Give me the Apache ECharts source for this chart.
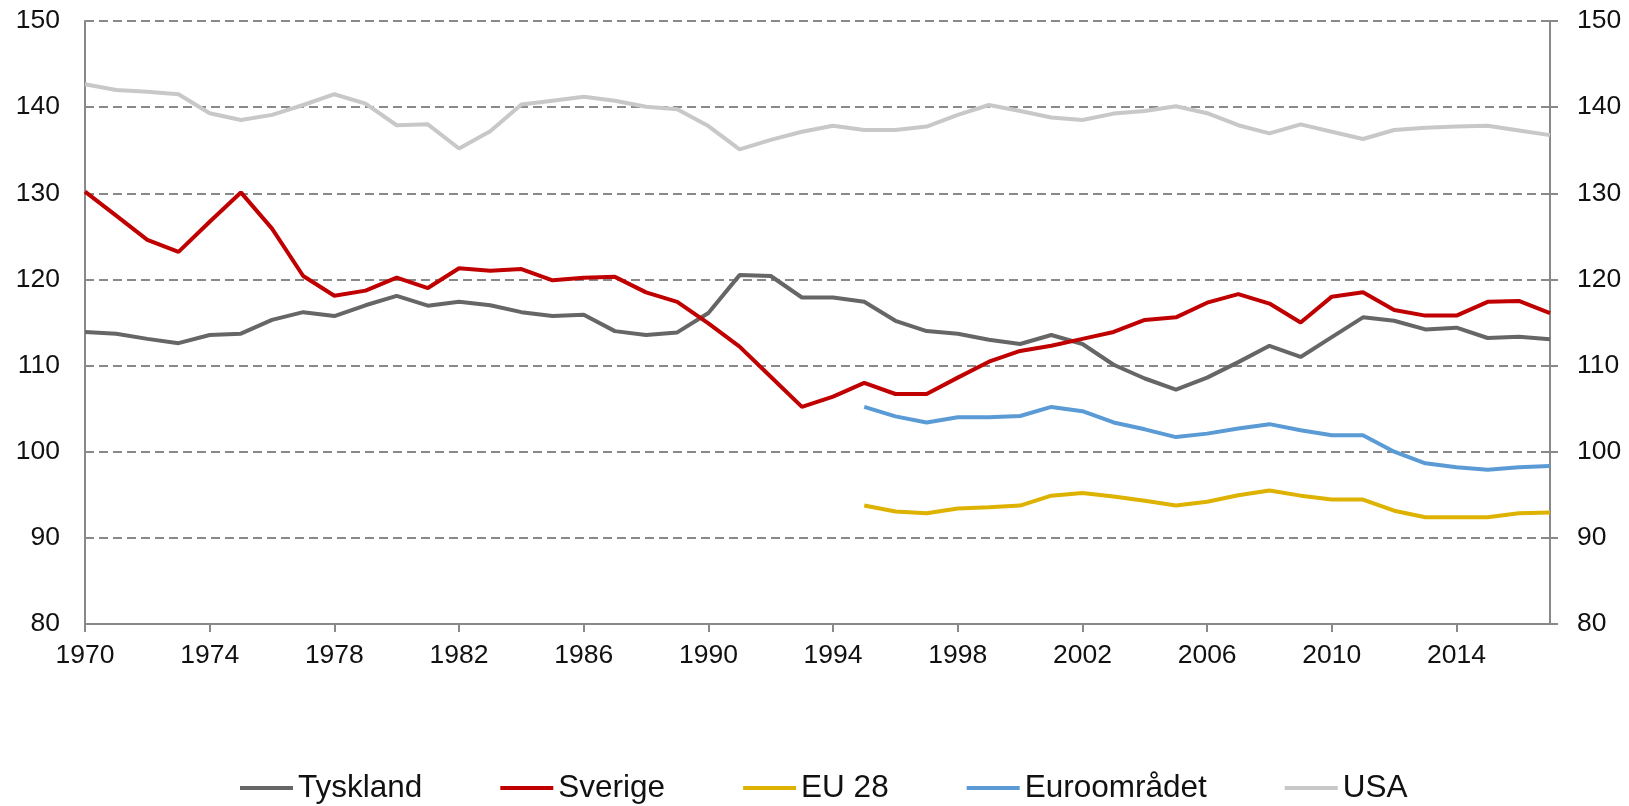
<!DOCTYPE html>
<html>
<head>
<meta charset="utf-8">
<script src="https://cdn.jsdelivr.net/npm/echarts@6/dist/echarts.min.js"></script>
<style>
  html, body { margin: 0; padding: 0; background: #fff; }
  #chart { width: 1629px; height: 806px; }
</style>
</head>
<body>
<div id="chart"></div>
<script>
// år 1970-2017
var years = [];
for (var y = 1970; y <= 2017; y++) years.push(String(y));

var tyskland = [113.9, 113.7, 113.1, 112.6, 113.55, 113.7, 115.3, 116.2, 115.75, 117.0,
  118.1, 116.95, 117.4, 117.0, 116.2, 115.75, 115.9, 114.0, 113.55, 113.85,
  116.1, 120.5, 120.4, 117.9, 117.9, 117.4, 115.2, 114.0, 113.7, 113.0,
  112.5, 113.55, 112.5, 110.1, 108.5, 107.2, 108.6, 110.4, 112.3, 111.0,
  113.3, 115.6, 115.2, 114.2, 114.4, 113.2, 113.35, 113.05];

var sverige = [130.2, 127.4, 124.6, 123.2, 126.7, 130.1, 125.9, 120.4, 118.1, 118.7,
  120.2, 119.0, 121.3, 121.0, 121.2, 119.9, 120.2, 120.3, 118.5, 117.4,
  114.9, 112.2, 108.7, 105.2, 106.4, 108.0, 106.7, 106.7, 108.6, 110.45,
  111.7, 112.3, 113.1, 113.9, 115.3, 115.6, 117.3, 118.3, 117.2, 115.0,
  118.0, 118.5, 116.45, 115.8, 115.8, 117.4, 117.5, 116.1];

// EU 28 och euroområdet finns från 1995
var eu28 = [null, null, null, null, null, null, null, null, null, null,
  null, null, null, null, null, null, null, null, null, null,
  null, null, null, null, null, 93.75, 93.05, 92.85, 93.4, 93.55,
  93.75, 94.9, 95.2, 94.8, 94.3, 93.75, 94.2, 94.95, 95.5, 94.9,
  94.45, 94.45, 93.15, 92.4, 92.4, 92.4, 92.85, 92.95];

var euroomradet = [null, null, null, null, null, null, null, null, null, null,
  null, null, null, null, null, null, null, null, null, null,
  null, null, null, null, null, 105.2, 104.1, 103.4, 104.0, 104.0,
  104.15, 105.2, 104.7, 103.4, 102.6, 101.7, 102.1, 102.7, 103.2, 102.5,
  101.9, 101.9, 100.0, 98.65, 98.2, 97.9, 98.2, 98.35];

var usa = [142.65, 142.0, 141.8, 141.5, 139.3, 138.5, 139.1, 140.25, 141.5, 140.4,
  137.9, 138.0, 135.2, 137.2, 140.3, 140.75, 141.2, 140.75, 140.05, 139.75,
  137.8, 135.1, 136.2, 137.15, 137.85, 137.35, 137.35, 137.75, 139.1, 140.25,
  139.55, 138.8, 138.5, 139.25, 139.55, 140.1, 139.3, 137.9, 136.95, 138.0,
  137.15, 136.3, 137.35, 137.6, 137.75, 137.85, 137.3, 136.75];

var seriesNames = ['Tyskland', 'Sverige', 'EU 28', 'Euroområdet', 'USA'];
var seriesColors = ['#666666', '#C00000', '#DEB200', '#5B9BD5', '#C8C8C8'];
var seriesData = [tyskland, sverige, eu28, euroomradet, usa];

var fontFamily = '"Liberation Sans", Arial, sans-serif';
var axisGray = '#898989';

var chart = echarts.init(document.getElementById('chart'));

var yAxisBase = function (position) {
  return {
    type: 'value',
    position: position,
    min: 80,
    max: 150,
    interval: 10,
    axisLine: { show: true, lineStyle: { color: axisGray, width: 2 } },
    axisTick: {
      show: position === 'right',
      length: 8,
      lineStyle: { color: axisGray, width: 2 }
    },
    axisLabel: {
      margin: position === 'right' ? 27 : 25,
      color: '#111',
      fontSize: 26.5,
      fontFamily: fontFamily
    },
    splitLine: {
      show: position === 'left',
      lineStyle: { color: axisGray, width: 2, type: [9, 5] }
    }
  };
};

chart.setOption({
  animation: false,
  backgroundColor: '#fff',
  grid: { left: 85, right: 79, top: 21, bottom: 182 },
  legend: {
    left: 235,
    top: 767,
    itemGap: 78,
    itemWidth: 53,
    itemHeight: 4,
    icon: 'rect',
    data: seriesNames,
    textStyle: { fontSize: 31.5, color: '#111', fontFamily: fontFamily }
  },
  xAxis: {
    type: 'category',
    boundaryGap: false,
    data: years,
    axisLine: { lineStyle: { color: axisGray, width: 2 } },
    axisTick: {
      interval: 3,
      length: 8,
      lineStyle: { color: axisGray, width: 2 }
    },
    axisLabel: {
      interval: 3,
      margin: 18,
      color: '#111',
      fontSize: 26.5,
      fontFamily: fontFamily
    },
    splitLine: { show: false }
  },
  yAxis: [yAxisBase('left'), yAxisBase('right')],
  series: seriesData.map(function (d, i) {
    return {
      name: seriesNames[i],
      type: 'line',
      data: d,
      symbol: 'none',
      z: i === 4 ? 1 : 2,
      itemStyle: { color: seriesColors[i] },
      lineStyle: { color: seriesColors[i], width: 4 }
    };
  })
});
</script>
</body>
</html>
